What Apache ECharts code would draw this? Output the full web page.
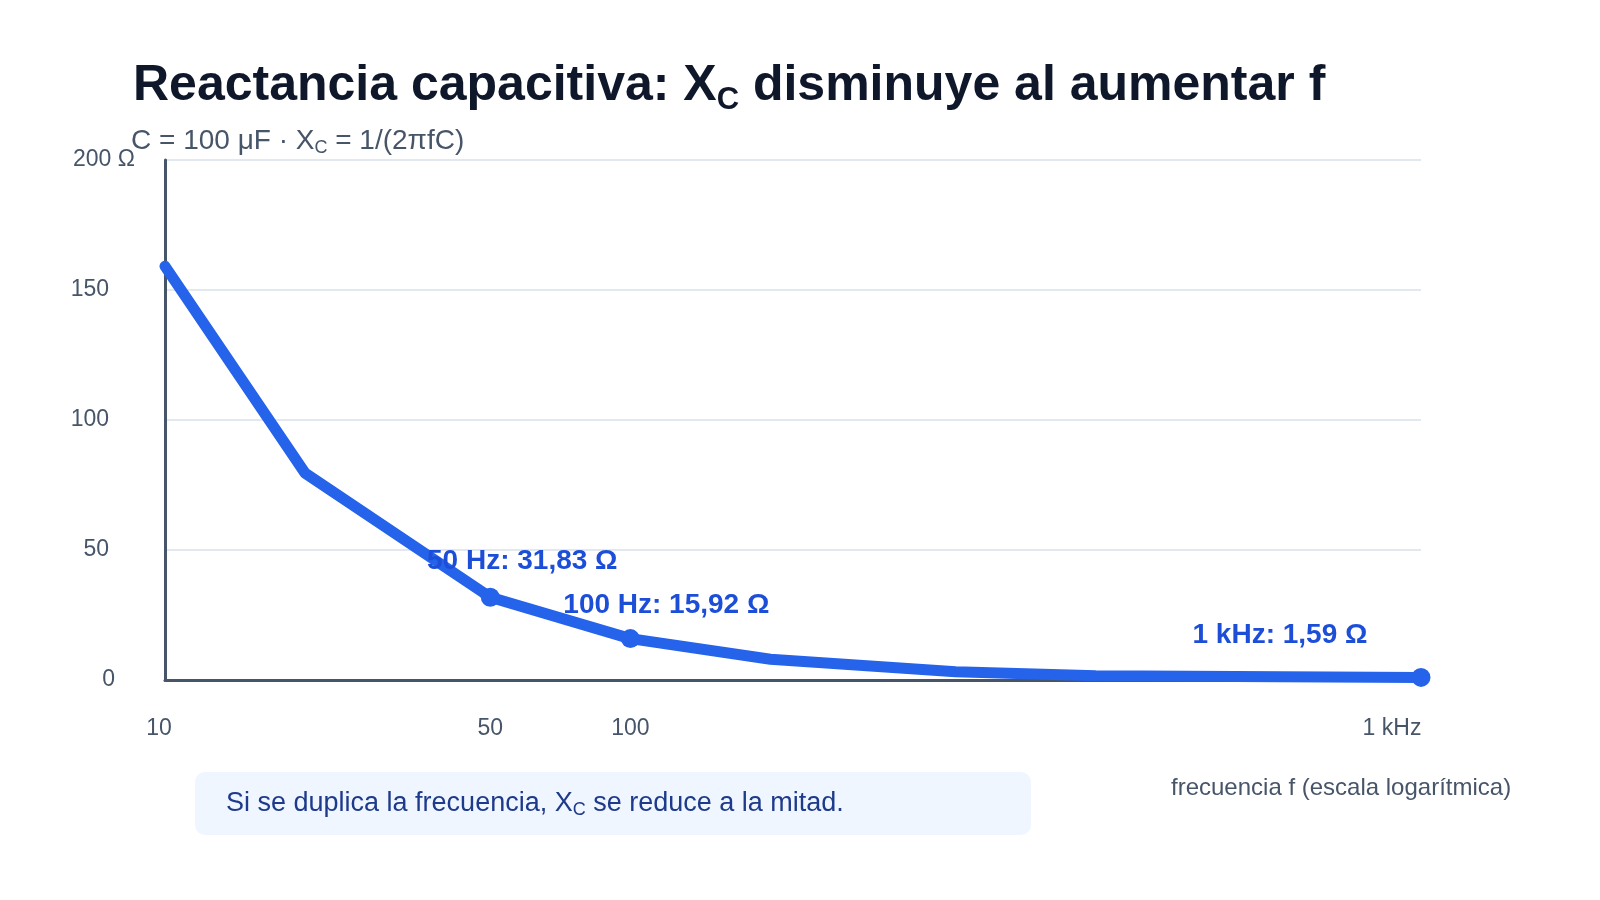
<!DOCTYPE html>
<html lang="es">
<head>
<meta charset="UTF-8">
<title>Reactancia capacitiva</title>
<script src="https://cdn.jsdelivr.net/npm/echarts@6.0.0/dist/echarts.min.js"></script>
<style>
  html, body { margin: 0; padding: 0; background: #fff; }
  #chart { width: 1600px; height: 900px; }
</style>
</head>
<body>
<div id="chart"></div>
<script>
    // frecuencia (Hz) y reactancia Xc (Ω)
    const freqs = [10, 20, 50, 100, 200, 500, 1000, 5000];
    const reactance = [159.15, 79.58, 31.83, 15.92, 7.96, 3.18, 1.59, 1.0];
    // puntos destacados ('' = sin marcador)
    const pointLabels = ['', '', '50 Hz: 31,83 Ω', '100 Hz: 15,92 Ω', '', '', '', '1 kHz: 1,59 Ω'];
    const xTickValues = [10, 50, 100, 5000];
    const xTickLabels = ['10', '50', '100', '1 kHz'];

    const FONT = 'Liberation Sans, Arial, Helvetica, sans-serif';
    const BLUE = '#2563eb';
    const SLATE = '#475569';

    // desplazamiento de cada etiqueta respecto a su punto
    const labelOffset = { 2: [32, -36], 3: [36, -33], 7: [-141, -42] };

    var chart = echarts.init(document.getElementById('chart'));

    var seriesData = freqs.map(function (f, i) {
        var lbl = pointLabels[i];
        return {
            value: [f, reactance[i]],
            symbolSize: lbl ? 19 : 0,
            label: lbl ? {
                show: true,
                formatter: lbl,
                position: 'inside',
                offset: labelOffset[i],
                color: '#1d4ed8',
                fontWeight: 'bold',
                fontSize: 28,
                fontFamily: FONT
            } : { show: false }
        };
    });

    var option = {
        animation: false,
        backgroundColor: '#ffffff',
        textStyle: { fontFamily: FONT },
        title: [
            {
                text: 'Reactancia capacitiva: X{sub|C} disminuye al aumentar f',
                left: 128,
                top: 52,
                textStyle: {
                    color: '#0f172a',
                    fontSize: 50,
                    fontWeight: 'bold',
                    fontFamily: FONT,
                    rich: {
                        sub: { fontSize: 31, fontWeight: 'bold', color: '#0f172a', fontFamily: FONT, padding: [28, 0, 0, 0] }
                    }
                }
            },
            {
                text: 'C = 100 μF · X{sub|C} = 1/(2πfC)',
                left: 126,
                top: 121,
                textStyle: {
                    color: SLATE,
                    fontSize: 28,
                    fontWeight: 'normal',
                    fontFamily: FONT,
                    rich: {
                        sub: { fontSize: 18, color: SLATE, fontFamily: FONT, padding: [13, 0, 0, 0] }
                    }
                }
            }
        ],
        grid: { left: 165, right: 179, top: 160, bottom: 220 },
        xAxis: {
            type: 'log',
            logBase: 10,
            min: 10,
            max: 5000,
            name: 'frecuencia f (escala logarítmica)',
            nameLocation: 'end',
            nameGap: -250,
            nameTextStyle: {
                color: SLATE, fontSize: 24, fontFamily: FONT,
                align: 'left', verticalAlign: 'top', padding: [96, 0, 0, 0]
            },
            axisLine: { show: true, lineStyle: { color: SLATE, width: 3 } },
            axisTick: { show: false },
            splitLine: { show: false },
            minorTick: { show: false },
            axisLabel: {
                customValues: xTickValues,
                color: SLATE,
                fontSize: 23,
                margin: 37,
                fontFamily: FONT,
                formatter: function (v) {
                    var idx = xTickValues.indexOf(Math.round(v));
                    var t = idx >= 0 ? xTickLabels[idx] : '';
                    if (idx === 0) return '{l|' + t + '}';
                    if (idx === xTickValues.length - 1) return '{r|' + t + '}';
                    return t;
                },
                rich: {
                    l: { fontSize: 23, color: SLATE, fontFamily: FONT, padding: [0, 12, 0, 0] },
                    r: { fontSize: 23, color: SLATE, fontFamily: FONT, padding: [0, 58, 0, 0] }
                }
            }
        },
        yAxis: {
            type: 'value',
            min: 0,
            max: 200,
            interval: 50,
            axisLine: { show: true, lineStyle: { color: SLATE, width: 3 } },
            axisTick: { show: false },
            splitLine: { show: true, lineStyle: { color: '#e2e8f0', width: 2 } },
            axisLabel: {
                color: SLATE,
                fontSize: 23,
                margin: 56,
                fontFamily: FONT,
                formatter: function (v) {
                    if (v === 200) return '{o|200 Ω}';
                    if (v === 0) return '{z|0}';
                    return String(v);
                },
                rich: {
                    o: { fontSize: 23, color: SLATE, fontFamily: FONT, padding: [0, -26, 0, 0] },
                    z: { fontSize: 23, color: SLATE, fontFamily: FONT, padding: [0, -6, 0, 0] }
                }
            }
        },
        series: [
            {
                type: 'line',
                data: seriesData,
                symbol: 'circle',
                showSymbol: true,
                lineStyle: { color: BLUE, width: 11, cap: 'round', join: 'round' },
                itemStyle: { color: BLUE },
                emphasis: { disabled: true },
                z: 3
            }
        ],
        graphic: [
            {
                type: 'group',
                left: 195,
                top: 772,
                children: [
                    {
                        type: 'rect',
                        shape: { x: 0, y: 0, width: 836, height: 63, r: 10 },
                        style: { fill: '#eff6ff' }
                    },
                    {
                        type: 'text',
                        x: 31,
                        y: 32,
                        style: {
                            text: 'Si se duplica la frecuencia, X{sub|C} se reduce a la mitad.',
                            fill: '#1e3a8a',
                            fontSize: 27,
                            fontFamily: FONT,
                            verticalAlign: 'middle',
                            rich: {
                                sub: { fontSize: 18, fill: '#1e3a8a', fontFamily: FONT, padding: [12, 0, 0, 0] }
                            }
                        }
                    }
                ]
            }
        ]
    };

    chart.setOption(option);
</script>
</body>
</html>
